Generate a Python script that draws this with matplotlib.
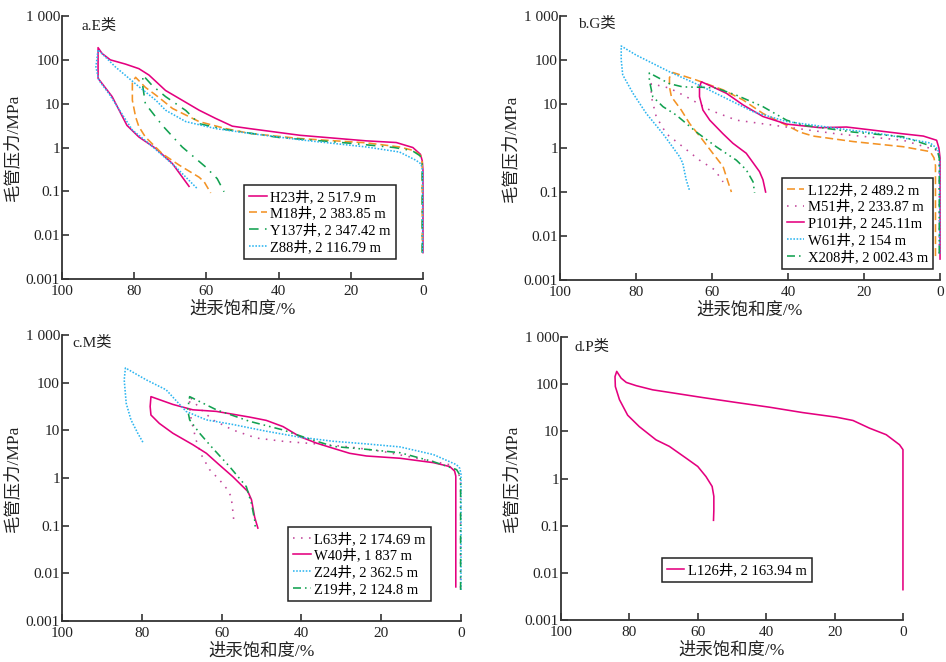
import matplotlib
matplotlib.use('Agg')
import matplotlib.pyplot as plt
from matplotlib.ticker import FixedLocator, NullLocator

plt.rcParams['font.family'] = ['Liberation Serif', 'Noto Sans CJK SC']
plt.rcParams['axes.unicode_minus'] = False

MAG = '#e4007f'
ORA = '#f39325'
GRN = '#12a150'
CYA = '#2cb5f0'
PNK = '#c2479b'

# ---- a. E类 ----
h23_x = [0, 0, 0.2, 0.7, 2.8, 7.4, 15.7, 34, 48, 52.8, 57.4, 62, 66.7, 71.3, 75.9, 78.7,
         82.4, 86.6, 88.9, 90, 90, 90, 86.1, 82, 78.7, 74, 69.4, 64.8]
h23_y = [0.004, 0.3, 0.5, 0.7, 1.0, 1.3, 1.42, 1.9, 2.7, 3.07, 4.6, 7.1, 12, 20, 45, 63,
         80, 100, 140, 190, 100, 38, 14.5, 3.2, 1.74, 0.95, 0.43, 0.13]
m18_x = [0.2, 0.2, 0.6, 2.5, 6.5, 15.7, 34, 48, 54.6, 62, 69.4, 72.2, 74, 76.9, 79.6,
         80.5, 80.5, 79.6, 78.7, 76.9, 72.2, 67.6, 62, 60.6, 58.8]
m18_y = [0.004, 0.45, 0.65, 0.85, 1.03, 1.28, 1.6, 2.1, 2.7, 3.9, 7.8, 12, 15.7, 23.6, 40,
         31, 12, 5, 3, 1.74, 0.72, 0.40, 0.21, 0.165, 0.092]
y137_x = [0.2, 0.2, 0.8, 3, 8, 20, 40, 55, 62, 65.7, 71.3, 75, 77.6,
          77.6, 76.9, 72.2, 66.7, 60.2, 57, 55.1]
y137_y = [0.004, 0.45, 0.65, 0.85, 1.0, 1.25, 1.7, 2.6, 3.5, 7, 14.5, 26, 45,
          24.5, 10, 3.2, 1.03, 0.36, 0.195, 0.098]
z88_x = [0.1, 0.1, 0.5, 1.9, 6.5, 15.7, 34, 48, 57.4, 65.7, 71.3, 74, 78.7, 85.2, 90,
         90.6, 89.8, 87, 80.5, 75.9, 68.5, 62.5]
z88_y = [0.004, 0.3, 0.42, 0.51, 0.79, 1.03, 1.5, 2.1, 2.7, 3.9, 7.1, 12, 24.5, 69, 170,
         69, 34.5, 17, 2.5, 1.23, 0.36, 0.115]

# ---- b. G类 ----
l122_x = [1.2, 1.2, 1.6, 2.6, 9.7, 22.8, 33.4, 36.9, 41.3, 46.6, 51.8, 57.1, 64.1, 70.3,
          71.2, 71.2, 70.7, 68.1, 65.9, 62.4, 59.8, 57.1, 55.8, 54.9]
l122_y = [0.0035, 0.4, 0.6, 0.83, 1.07, 1.4, 1.87, 2.3, 3.6, 6.1, 12.3, 21, 35, 52,
          40, 24.5, 14.7, 7.3, 3.6, 1.5, 0.76, 0.38, 0.17, 0.10]
m51_x = [0.2, 0.2, 0.9, 9.7, 27.2, 40.4, 53.6, 60.6, 66.8, 71.2, 76,
         76, 74.7, 72, 67.7, 63.3, 59.3, 57.1]
m51_y = [0.004, 0.6, 0.89, 1.5, 2.1, 3.0, 4.3, 7.3, 14.7, 23, 29,
         15, 5.2, 2.1, 1.07, 0.53, 0.32, 0.17]
p101_x = [0, 0, 0.3, 0.9, 4.4, 9.7, 18.5, 24.6, 31.6, 40.4, 46.6, 51.8, 56.2, 59.8, 62.8,
          63.3, 63.3, 62.4, 60.6, 57.1, 54.5, 51, 47.5, 46.6, 45.9]
p101_y = [0.003, 0.6, 1.0, 1.5, 1.87, 2.1, 2.6, 3.0, 2.9, 3.5, 5.2, 9.5, 17.5, 24.5, 32,
          24.5, 14.7, 7.3, 4.3, 2.1, 1.28, 0.76, 0.29, 0.19, 0.10]
w61_x = [0.1, 0.1, 0.6, 2.6, 14, 27.2, 40.4, 49.2, 55.4, 62.4, 71.2, 80, 83.9,
         83.9, 83.5, 80.8, 77.3, 72.9, 68.5, 67.7, 66.8, 65.9]
w61_y = [0.004, 0.6, 0.95, 1.3, 2.0, 2.8, 4.0, 6.7, 12.3, 24.5, 54, 130, 208,
         100, 46, 17.5, 6.1, 2.1, 0.63, 0.45, 0.19, 0.107]
x208_x = [0.2, 0.2, 0.7, 1.8, 9.7, 22.8, 36, 40.4, 46.6, 53.6, 58.9, 62.4, 67.7, 71.2, 74.7, 76.5,
          76.5, 75.6, 72.9, 69.4, 64.1, 58.9, 53.6, 51, 49.2, 48.8]
x208_y = [0.004, 0.6, 0.85, 1.07, 1.8, 2.3, 3.3, 4.3, 8.7, 15.9, 23, 24, 24.5, 29, 42, 51,
          35, 14.7, 8.7, 5.6, 2.3, 1.07, 0.53, 0.32, 0.17, 0.096]

# ---- c. M类 ----
l63_x = [0.1, 0.1, 0.6, 2.8, 11.1, 19.5, 27.9, 36.2, 44.6, 51.3, 57.2, 62.2, 65.5, 68,
         68, 67.6, 66.4, 65.1, 63, 60.5, 58.8, 57.6, 57.2, 56.9]
l63_y = [0.005, 0.8, 1.3, 1.9, 2.6, 3.6, 4.5, 5.2, 5.9, 6.9, 10.2, 16.6, 29, 51,
         31.6, 16.6, 6.3, 3.1, 1.5, 0.91, 0.61, 0.41, 0.21, 0.12]
w40_x = [1.3, 1.3, 1.6, 2.8, 6.9, 15.3, 23.7, 27.9, 32, 36.2, 40.4, 44.6, 48.8, 53, 61.3, 67.2,
         72.2, 77.7, 77.9, 77.7, 75.6, 72.2, 67.2, 63.8, 60.9, 57.2, 53.4, 52.5, 51.7, 50.9]
w40_y = [0.0052, 1.1, 1.4, 1.74, 2.1, 2.6, 2.9, 3.3, 4.2, 5.4, 7.4, 12, 16.2, 19, 25, 27,
         35, 51, 31.6, 21, 14, 8.7, 5, 3.3, 2.0, 1.07, 0.52, 0.35, 0.15, 0.089]
z24_x = [0, 0, 0.3, 1.1, 6.9, 15.3, 23.7, 32, 40.4, 48.8, 57.2, 63.8, 68.9, 73.9, 78.9, 84.1,
         84.4, 83.9, 82.7, 81, 79.7]
z24_y = [0.0045, 1.2, 1.6, 1.9, 3.1, 4.5, 5.2, 5.9, 7.2, 9.6, 13.3, 16.6, 25, 71, 115, 204,
         115, 37, 16.6, 8.7, 5.6]
z19_x = [0.1, 0.1, 0.4, 1.1, 6.9, 15.3, 23.7, 32, 38.7, 44.6, 53, 61.3, 68,
         68.5, 68, 65.5, 62.2, 58, 53.8, 52.5, 51.7, 51.5]
z19_y = [0.0045, 0.9, 1.2, 1.5, 2.2, 3.4, 4.0, 4.6, 6.9, 10.2, 15.5, 27, 51,
         27, 16.6, 8.7, 4.2, 1.74, 0.66, 0.29, 0.13, 0.081]

# ---- d. P类 ----
l126_x = [0, 0, 0, 0, 1, 4.9, 9.8, 14.6, 19.5, 29.3, 39, 48.8, 58.5, 68.3, 73.2, 78, 80.9,
          82.4, 83.7, 84.2, 84.1, 82.9, 80.5, 77.1, 72.2, 68.3, 63.4, 60, 57.6, 55.8, 55.3, 55.3, 55.4]
l126_y = [0.0044, 0.1, 1.5, 4.1, 5.2, 8.5, 11.7, 17, 20, 25, 32.5, 41, 52, 67, 76, 93, 109,
          134, 187, 145, 89, 47, 22, 12.6, 6.6, 4.8, 2.7, 1.8, 1.1, 0.68, 0.42, 0.21, 0.13]

panels = [
    dict(title='a.E类', rect=[0.0655, 0.5785, 0.3816, 0.3973], tpos=(0.053, 0.962),
         leg=(0.925, 0.076),
         series=[(h23_x, h23_y, MAG, '-', 'H23井, 2 517.9 m'),
                 (m18_x, m18_y, ORA, (0, (5, 2.5)), 'M18井, 2 383.85 m'),
                 (y137_x, y137_y, GRN, (0, (6, 4, 1, 4)), 'Y137井, 2 347.42 m'),
                 (z88_x, z88_y, CYA, (0, (1, 1)), 'Z88井, 2 116.79 m')]),
    dict(title='b.G类', rect=[0.592, 0.577, 0.4017, 0.3988], tpos=(0.047, 0.97),
         leg=(0.982, 0.042),
         series=[(l122_x, l122_y, ORA, (0, (5, 2.5)), 'L122井, 2 489.2 m'),
                 (m51_x, m51_y, PNK, (0, (1, 4)), 'M51井, 2 233.87 m'),
                 (p101_x, p101_y, MAG, '-', 'P101井, 2 245.11m'),
                 (w61_x, w61_y, CYA, (0, (1, 1)), 'W61井, 2 154 m'),
                 (x208_x, x208_y, GRN, (0, (5, 2.5, 1, 2.5, 1, 2.5)), 'X208井, 2 002.43 m')]),
    dict(title='c.M类', rect=[0.0655, 0.0619, 0.4218, 0.432], tpos=(0.025, 0.972),
         leg=(0.925, 0.07),
         series=[(l63_x, l63_y, PNK, (0, (1, 4)), 'L63井, 2 174.69 m'),
                 (w40_x, w40_y, MAG, '-', 'W40井, 1 837 m'),
                 (z24_x, z24_y, CYA, (0, (1, 1)), 'Z24井, 2 362.5 m'),
                 (z19_x, z19_y, GRN, (0, (5, 2.5, 1, 2.5, 1, 2.5)), 'Z19井, 2 124.8 m')]),
    dict(title='d.P类', rect=[0.593, 0.0634, 0.3615, 0.4275], tpos=(0.041, 0.965),
         leg=(0.734, 0.134),
         series=[(l126_x, l126_y, MAG, '-', 'L126井, 2 163.94 m')]),
]

yticks = [0.001, 0.01, 0.1, 1, 10, 100, 1000]
ylabels = ['0.001', '0.01', '0.1', '1', '10', '100', '1 000']
xticks = [100, 80, 60, 40, 20, 0]

fig = plt.figure(figsize=(9.46, 6.62), dpi=100)
for p in panels:
    ax = fig.add_axes(p['rect'])
    for x, y, c, ls, lab in p['series']:
        ax.plot(x, y, color=c, linestyle=ls, linewidth=1.15, label=lab, clip_on=False)
    ax.set_yscale('log')
    ax.set_ylim(0.001, 1000)
    ax.set_xlim(100, 0)
    ax.yaxis.set_major_locator(FixedLocator(yticks))
    ax.yaxis.set_minor_locator(NullLocator())
    ax.set_yticks(yticks)
    ax.set_yticklabels(ylabels)
    ax.set_xticks(xticks)
    ax.set_xticklabels([str(v) for v in xticks])
    ax.tick_params(direction='in', length=5, width=1.1, labelsize=11, colors='#222222')
    ax.tick_params(axis='y', pad=1.5)
    ax.tick_params(axis='x', pad=4)
    for s in ['top', 'right']:
        ax.spines[s].set_visible(False)
    for s in ['left', 'bottom']:
        ax.spines[s].set_linewidth(1.3)
        ax.spines[s].set_color('#333333')
    ax.set_xlabel('进汞饱和度/%', fontsize=12.5, labelpad=3, color='#222222')
    ax.set_ylabel('毛管压力/MPa', fontsize=12.5, labelpad=3, color='#222222')
    ax.text(p['tpos'][0], p['tpos'][1], p['title'], transform=ax.transAxes,
            fontsize=11, va='center', ha='left', color='#222222')
    leg = ax.legend(loc='lower right', bbox_to_anchor=p['leg'], fontsize=10.5,
                    frameon=True, fancybox=False, framealpha=1, edgecolor='#222222',
                    handlelength=1.2, handletextpad=0.25, labelspacing=0.2,
                    borderpad=0.35, borderaxespad=0)
    leg.get_frame().set_linewidth(1.1)

fig.savefig('out.png', dpi=100)
